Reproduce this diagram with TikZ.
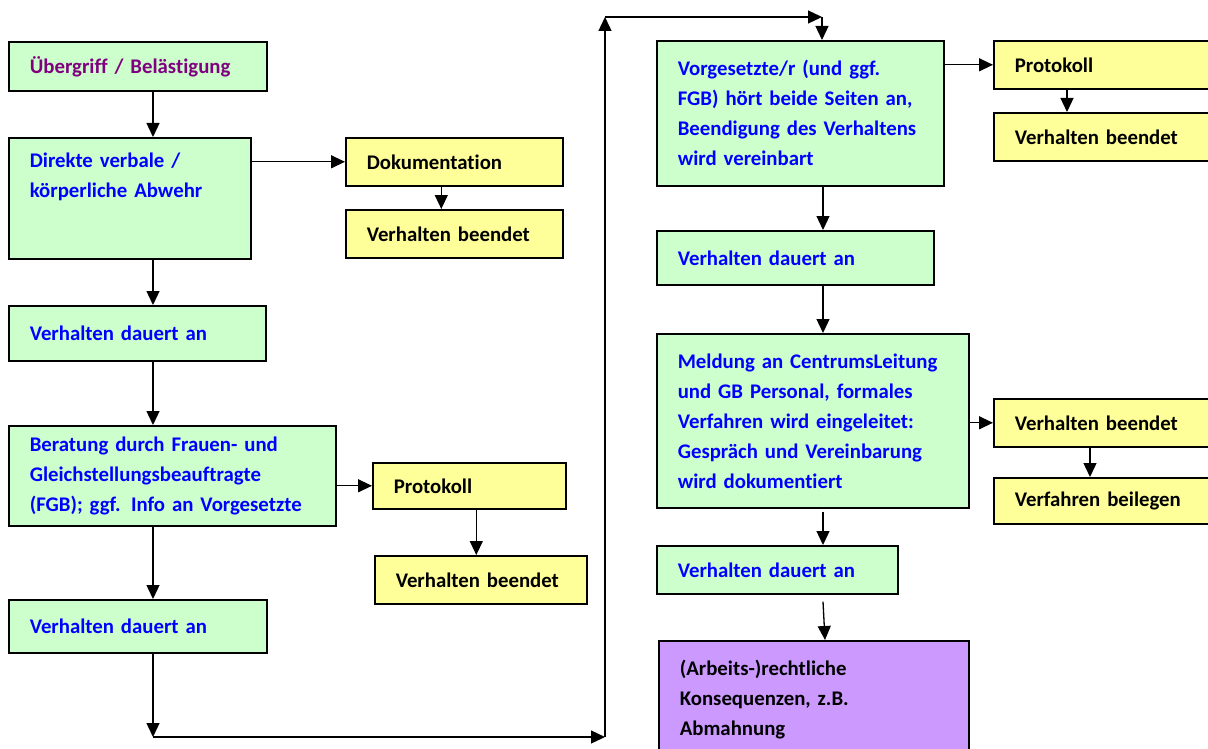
\documentclass[tikz,border=0pt]{standalone}
\usepackage{fontspec}
\setmainfont{Carlito}[Ligatures=NoCommon]
\usetikzlibrary{arrows.meta, positioning}

\definecolor{boxgreen}{HTML}{CCFFCC}
\definecolor{boxyellow}{HTML}{FFFF99}
\definecolor{boxviolet}{HTML}{CC99FF}
\definecolor{txtblue}{HTML}{0000FF}
\definecolor{txtpurple}{HTML}{800080}

\tikzset{
  flowbox/.style={draw, line width=1.6pt, anchor=north west, align=left,
    inner xsep=21pt, inner ysep=0pt, font=\fontsize{20.8}{30}\selectfont\bfseries},
  greenbox/.style={flowbox, fill=boxgreen, text=txtblue},
  yellowbox/.style={flowbox, fill=boxyellow, text=black},
  violetbox/.style={flowbox, fill=boxviolet, text=black},
  arr/.style={line width=1.3pt, -{Triangle[length=14pt,width=13pt]}},
}

\begin{document}
\begin{tikzpicture}[x=1pt,y=-1pt]
\useasboundingbox (0,0) rectangle (1208,749);

\coordinate (lcol) at (153,0);
\coordinate (rcol) at (823,0);

% left column
\node[greenbox, text=txtpurple, text width=216pt, minimum height=49pt] (ueber) at (8,41) {Übergriff / Belästigung};
\node[greenbox, text width=200pt, minimum height=121pt, text depth=76pt] (direkt) at (8,137) {Direkte verbale /\\körperliche Abwehr};
\node[yellowbox, text width=175pt, minimum height=48pt] (dok) at (345,137) {Dokumentation};
\node[yellowbox, text width=175pt, minimum height=48pt] (beend1) at (345,209) {Verhalten beendet};
\node[greenbox, text width=215pt, minimum height=55pt] (dauert1) at (8,305) {Verhalten dauert an};
\node[greenbox, text width=285pt, minimum height=100pt] (berat) at (8,425) {Beratung durch Frauen- und\\Gleichstellungsbeauftragte\\(FGB); ggf. Info an Vorgesetzte};
\node[yellowbox, text width=151pt, minimum height=46pt] (prot1) at (372,462) {Protokoll};
\node[yellowbox, text width=170pt, minimum height=48pt] (beend2) at (374,555) {Verhalten beendet};
\node[greenbox, text width=216pt, minimum height=53pt] (dauert2) at (8,599) {Verhalten dauert an};

% right column
\node[greenbox, text width=245pt, minimum height=145pt] (vorges) at (656,40) {Vorgesetzte/r (und ggf.\\FGB) hört beide Seiten an,\\Beendigung des Verhaltens\\wird vereinbart};
\node[yellowbox, text width=198pt, minimum height=48pt] (prot2) at (993,40) {Protokoll};
\node[yellowbox, text width=198pt, minimum height=48pt] (beend3) at (993,112) {Verhalten beendet};
\node[greenbox, text width=235pt, minimum height=54pt] (dauert3) at (656,230) {Verhalten dauert an};
\node[greenbox, text width=270pt, minimum height=174pt] (meld) at (656,333) {Meldung an CentrumsLeitung\\und GB Personal, formales\\Verfahren wird eingeleitet:\\Gespräch und Vereinbarung\\wird dokumentiert};
\node[yellowbox, text width=198pt, minimum height=48pt] (beend4) at (993,398) {Verhalten beendet};
\node[yellowbox, text width=198pt, minimum height=46pt] (beileg) at (993,477) {Verfahren beilegen};
\node[greenbox, text width=199pt, minimum height=48pt] (dauert4) at (656,545) {Verhalten dauert an};
\node[violetbox, text width=268pt, minimum height=118pt] (konseq) at (658,640) {(Arbeits-)rechtliche\\Konsequenzen, z.B.\\Abmahnung};

% connectors left
\draw[arr] (ueber.south -| lcol) -- (direkt.north -| lcol);
\draw[arr] (direkt.east |- dok.west) -- (dok.west);
\draw[arr] ([xshift=-13pt]dok.south) -- ([xshift=-13pt]dok.south |- beend1.north);
\draw[arr] (direkt.south -| lcol) -- (dauert1.north -| lcol);
\draw[arr] (dauert1.south -| lcol) -- (berat.north -| lcol);
\draw[arr] (berat.east |- prot1.west) -- (prot1.west);
\draw[arr] ([xshift=7pt]prot1.south) -- ([xshift=7pt]prot1.south |- beend2.north);
\draw[arr] (berat.south -| lcol) -- (dauert2.north -| lcol);

% loop over to the right
\coordinate (lbot) at (153,737);
\coordinate (rbot) at (605,737);
\coordinate (rtop) at (605,17);
\coordinate (ttop) at (822,17);
\draw[arr] (dauert2.south -| lcol) -- (lbot);
\draw[arr] (lbot) -- (rbot);
\draw[arr] (rbot) -- (rtop);
\draw[arr] (rtop) -- (ttop);
\draw[arr] (ttop) -- (vorges.north -| ttop);

% connectors right
\draw[arr] (vorges.east |- prot2.west) -- (prot2.west);
\draw[arr] ([xshift=74pt]prot2.south west) -- ([xshift=74pt]beend3.north west);
\draw[arr] (vorges.south -| rcol) -- (dauert3.north -| rcol);
\draw[arr] (dauert3.south -| rcol) -- (meld.north -| rcol);
\draw[arr] (meld.east |- beend4.west) -- (beend4.west);
\draw[arr] ([xshift=97pt]beend4.south west) -- ([xshift=97pt]beileg.north west);
\draw[arr] ([yshift=-3pt]meld.south -| rcol) -- (dauert4.north -| rcol);
\draw[arr] ([yshift=-7pt]dauert4.south -| rcol) -- ([xshift=2pt]konseq.north -| rcol);
\end{tikzpicture}
\end{document}
